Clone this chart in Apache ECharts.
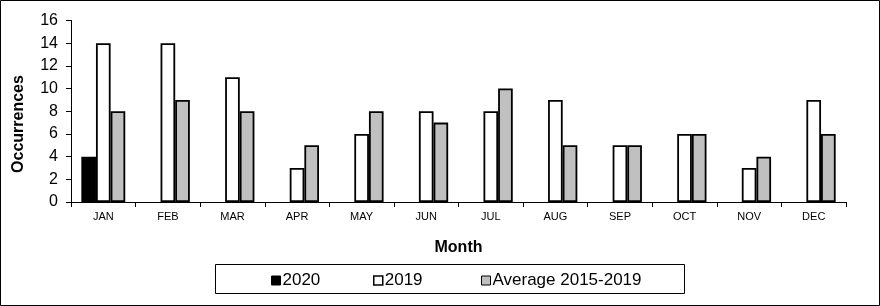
<!DOCTYPE html>
<html><head><meta charset="utf-8">
<script src="https://cdn.jsdelivr.net/npm/echarts@6/dist/echarts.min.js"></script>
<style>html,body{margin:0;padding:0;background:#fff}#c{width:880px;height:306px}</style>
</head><body><div id="c"></div>
<script>
const months = ['JAN','FEB','MAR','APR','MAY','JUN','JUL','AUG','SEP','OCT','NOV','DEC'];
const s2020 = [4, null, null, null, null, null, null, null, null, null, null, null];
const s2019 = [14, 14, 11, 3, 6, 8, 8, 9, 5, 6, 3, 9];
const avg = [8, 9, 8, 5, 8, 7, 10, 5, 5, 6, 4, 6];
const yTicks = [0, 2, 4, 6, 8, 10, 12, 14, 16];
const seriesNames = ['2020', '2019', 'Average 2015-2019'];

const chart = echarts.init(document.getElementById('c'), null, {renderer: 'canvas'});
const font = 'Liberation Sans, Arial, sans-serif';
const bw = 1.8;
const legendStyle = (name, left, fill, border) => ({
  left: left, top: 267, itemWidth: 9, itemHeight: 9, icon: 'rect',
  textStyle: {fontSize: 17, color: '#000', fontFamily: font, padding: [0, 0, 0, -3]},
  data: [{name: name, itemStyle: {color: fill, borderColor: '#000', borderWidth: border}}]
});
chart.setOption({
  animation: false,
  backgroundColor: '#fff',
  textStyle: {fontFamily: font},
  grid: {left: 71, right: 34, top: 20.5, bottom: 104},
  graphic: [
    {type: 'rect', shape: {x: 0.5, y: 0.5, width: 879, height: 305}, style: {fill: null, stroke: '#000', lineWidth: 1}, silent: true, z: 100},
    {type: 'rect', shape: {x: 215.5, y: 264.5, width: 469, height: 29}, style: {fill: null, stroke: '#000', lineWidth: 1}, silent: true, z: 100},
    {type: 'text', x: 19, y: 124, rotation: Math.PI / 2,
     style: {text: 'Occurrences', fontSize: 16, fontWeight: 'bold', fill: '#000', fontFamily: font, align: 'center', verticalAlign: 'middle'}}
  ],
  legend: [
    legendStyle(seriesNames[0], 266, '#000', 1),
    legendStyle(seriesNames[1], 368, '#fff', 1.5),
    legendStyle(seriesNames[2], 476, '#c0c0c0', 1)
  ],
  xAxis: {
    type: 'category', data: months,
    name: 'Month', nameLocation: 'middle', nameGap: 38,
    nameTextStyle: {fontSize: 16, fontWeight: 'bold', color: '#000', fontFamily: font},
    axisLine: {lineStyle: {color: '#000', width: 1}},
    axisTick: {show: true, length: 5, lineStyle: {color: '#000'}},
    axisLabel: {fontSize: 11, color: '#000', margin: 9, fontFamily: font}
  },
  yAxis: {
    type: 'value', min: yTicks[0], max: yTicks[yTicks.length - 1], interval: 2,
    axisLine: {show: true, lineStyle: {color: '#000', width: 1}},
    axisTick: {show: true, length: 5, lineStyle: {color: '#000'}},
    axisLabel: {fontSize: 16, color: '#000', margin: 13, fontFamily: font},
    splitLine: {show: false}
  },
  series: [
    {name: seriesNames[0], type: 'bar', data: s2020, barGap: '0%', barCategoryGap: '32%',
     itemStyle: {color: '#000', borderColor: '#000', borderWidth: bw}},
    {name: seriesNames[1], type: 'bar', data: s2019, barGap: '0%', barCategoryGap: '32%',
     itemStyle: {color: '#fff', borderColor: '#000', borderWidth: bw}},
    {name: seriesNames[2], type: 'bar', data: avg, barGap: '0%', barCategoryGap: '32%',
     itemStyle: {color: '#c0c0c0', borderColor: '#000', borderWidth: bw}}
  ]
});
</script></body></html>
